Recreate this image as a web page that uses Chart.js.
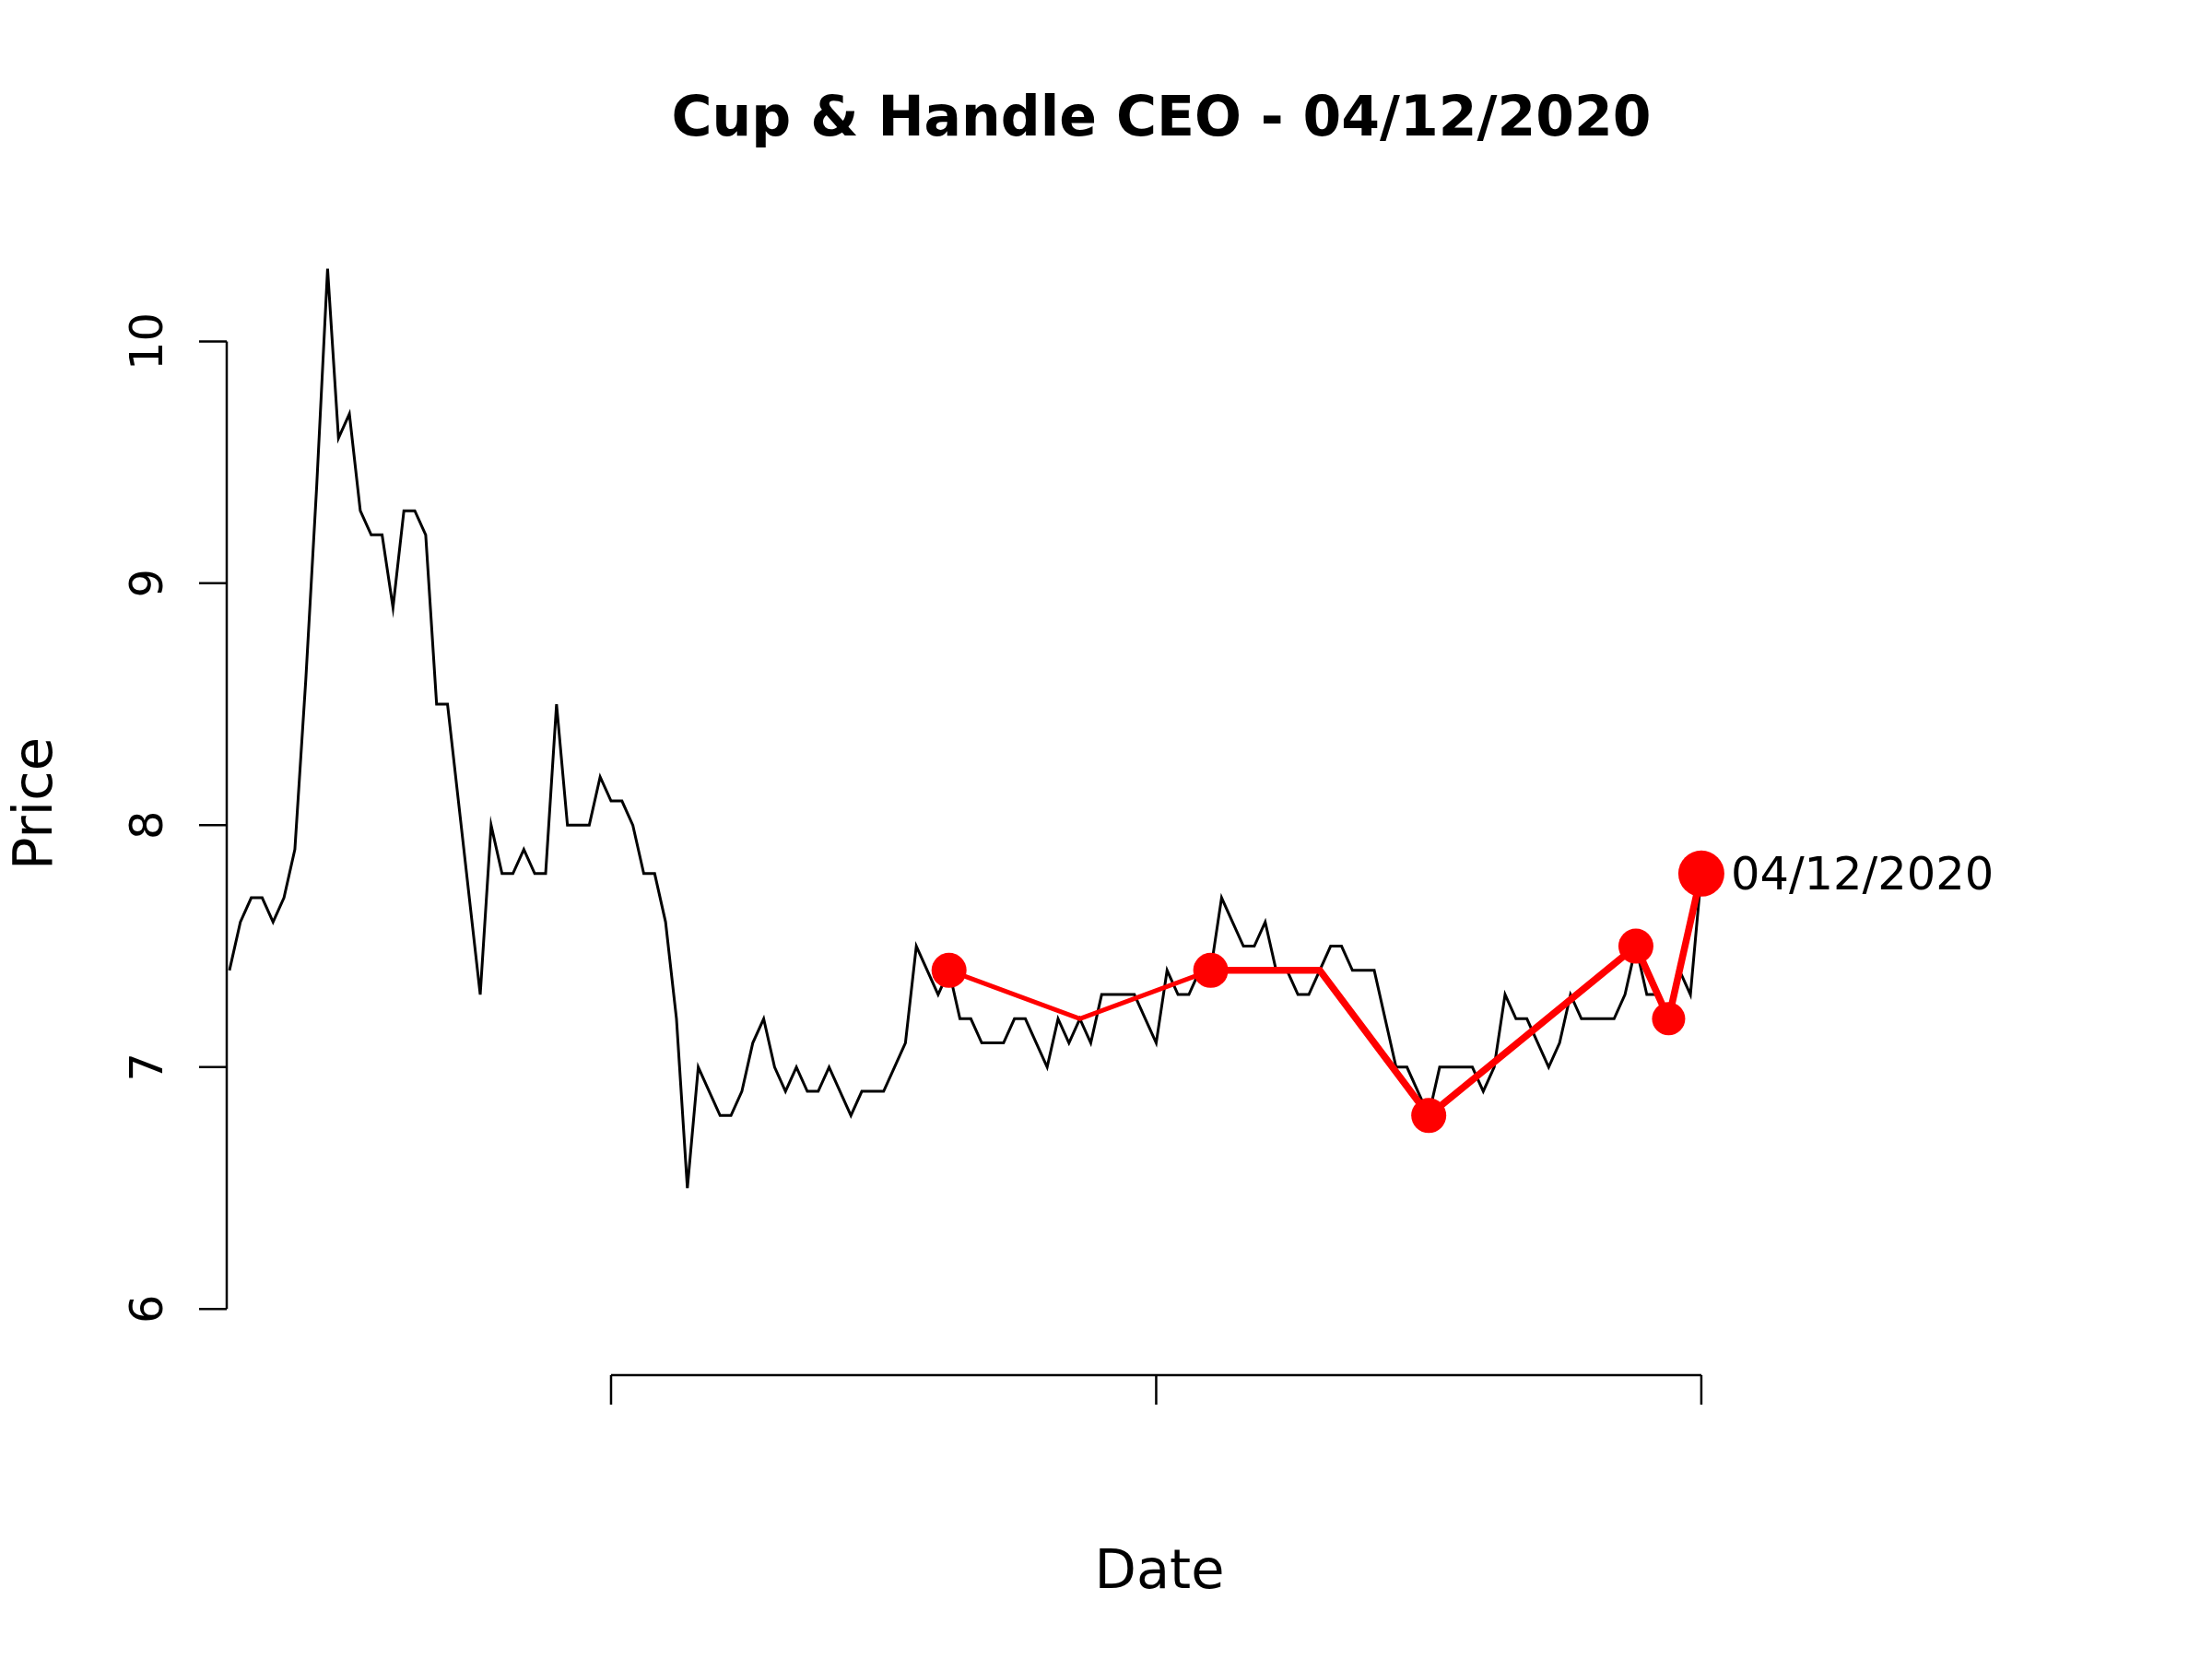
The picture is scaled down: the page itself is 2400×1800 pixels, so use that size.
<!DOCTYPE html>
<html>
<head>
  <meta charset="UTF-8">
  <title>Cup & Handle CEO - 04/12/2020</title>
  <script src="https://cdn.jsdelivr.net/npm/chart.js"></script>
  <style>
    html, body {
      margin: 0;
      padding: 0;
      background: #ffffff;
    }

    canvas {
      display: block;
    }
  </style>
</head>
<body>
  <canvas id="priceChart" width="2400" height="1800"></canvas>

  <script>
    // daily closing prices, one per trading day (index 0 = first day shown)
    const prices = [
      7.4, 7.6, 7.7, 7.7, 7.6, 7.7, 7.9, 8.6, 9.4, 10.3,
      9.6, 9.7, 9.3, 9.2, 9.2, 8.9, 9.3, 9.3, 9.2, 8.5,
      8.5, 8.1, 7.7, 7.3, 8.0, 7.8, 7.8, 7.9, 7.8, 7.8,
      8.5, 8.0, 8.0, 8.0, 8.2, 8.1, 8.1, 8.0, 7.8, 7.8,
      7.6, 7.2, 6.5, 7.0, 6.9, 6.8, 6.8, 6.9, 7.1, 7.2,
      7.0, 6.9, 7.0, 6.9, 6.9, 7.0, 6.9, 6.8, 6.9, 6.9,
      6.9, 7.0, 7.1, 7.5, 7.4, 7.3, 7.4, 7.2, 7.2, 7.1,
      7.1, 7.1, 7.2, 7.2, 7.1, 7.0, 7.2, 7.1, 7.2, 7.1,
      7.3, 7.3, 7.3, 7.3, 7.2, 7.1, 7.4, 7.3, 7.3, 7.4,
      7.4, 7.7, 7.6, 7.5, 7.5, 7.6, 7.4, 7.4, 7.3, 7.3,
      7.4, 7.5, 7.5, 7.4, 7.4, 7.4, 7.2, 7.0, 7.0, 6.9,
      6.8, 7.0, 7.0, 7.0, 7.0, 6.9, 7.0, 7.3, 7.2, 7.2,
      7.1, 7.0, 7.1, 7.3, 7.2, 7.2, 7.2, 7.2, 7.3, 7.5,
      7.3, 7.3, 7.2, 7.4, 7.3, 7.8
    ];

    // pattern pivots (day index and price)
    const patternDays = [66, 78, 90, 100, 110, 129, 132, 135];
    const patternPrices = [7.4, 7.2, 7.4, 7.4, 6.8, 7.5, 7.2, 7.8];
    const patternDots = [19, 0, 19, 0, 19, 19, 18, 25];

    const yTicks = [6, 7, 8, 9, 10];
    const xTicks = [35, 85, 135];   // date ticks, no labels shown

    const titleText = "Cup & Handle CEO - 04/12/2020";
    const xLabel = "Date";
    const yLabel = "Price";
    const pointLabel = "04/12/2020";

    const FONT = "'DejaVu Sans', sans-serif";

    const priceData = prices.map((p, i) => ({ x: i, y: p }));
    const patternData = patternDays.map((d, i) => ({ x: d, y: patternPrices[i] }));

    // R-style axes, titles and the point label
    const baseGraphics = {
      id: "baseGraphics",
      afterDraw(chart) {
        const c = chart.ctx;
        const area = chart.chartArea;
        const xs = chart.scales.x;
        const ys = chart.scales.y;
        const midX = (area.left + area.right) / 2;

        c.save();
        c.strokeStyle = "#000";
        c.fillStyle = "#000";
        c.lineWidth = 2.5;
        c.lineCap = "butt";

        // y axis
        const yTop = ys.getPixelForValue(yTicks[yTicks.length - 1]);
        const yBot = ys.getPixelForValue(yTicks[0]);
        c.beginPath();
        c.moveTo(area.left, yTop);
        c.lineTo(area.left, yBot);
        yTicks.forEach(t => {
          const py = ys.getPixelForValue(t);
          c.moveTo(area.left, py);
          c.lineTo(area.left - 30, py);
        });
        c.stroke();

        c.font = "49.5px " + FONT;
        c.textAlign = "center";
        c.textBaseline = "alphabetic";
        yTicks.forEach(t => {
          const py = ys.getPixelForValue(t);
          c.save();
          c.translate(area.left - 70, py);
          c.rotate(-Math.PI / 2);
          c.fillText(String(t), 0, 0);
          c.restore();
        });

        // x axis
        const xL = xs.getPixelForValue(xTicks[0]);
        const xR = xs.getPixelForValue(xTicks[xTicks.length - 1]);
        c.beginPath();
        c.moveTo(xL, area.bottom);
        c.lineTo(xR, area.bottom);
        xTicks.forEach(t => {
          const px = xs.getPixelForValue(t);
          c.moveTo(px, area.bottom);
          c.lineTo(px, area.bottom + 32);
        });
        c.stroke();

        // axis titles
        c.font = "59px " + FONT;
        c.fillText(xLabel, midX, 1723);
        c.save();
        c.translate(56, (area.top + area.bottom) / 2);
        c.rotate(-Math.PI / 2);
        c.fillText(yLabel, 0, 0);
        c.restore();

        // main title
        c.font = "bold 60px " + FONT;
        c.fillText(titleText, midX + 2, 147);

        // label next to the last pattern point
        const meta = chart.getDatasetMeta(1);
        const last = meta.data[meta.data.length - 1];
        c.font = "49.5px " + FONT;
        c.textAlign = "left";
        c.textBaseline = "middle";
        c.fillText(pointLabel, last.x + 32, last.y + 4);

        c.restore();
      }
    };

    const ctx = document.getElementById("priceChart").getContext("2d");
    new Chart(ctx, {
      type: "line",
      data: {
        datasets: [
          {
            label: "Price",
            data: priceData,
            borderColor: "#000000",
            borderWidth: 3,
            pointRadius: 0,
            tension: 0,
            fill: false,
            order: 2
          },
          {
            label: "Pattern",
            data: patternData,
            borderColor: "#ff0000",
            backgroundColor: "#ff0000",
            pointBackgroundColor: "#ff0000",
            pointBorderWidth: 0,
            pointRadius: patternDots,
            tension: 0,
            fill: false,
            segment: {
              borderWidth: s => (s.p0DataIndex < 2 ? 5 : 7.5)
            },
            order: 1
          }
        ]
      },
      options: {
        responsive: false,
        devicePixelRatio: 1,
        animation: false,
        clip: false,
        layout: {
          padding: { left: 246, right: 130, top: 252, bottom: 308 }
        },
        scales: {
          x: {
            type: "linear",
            display: false,
            min: -0.25,
            max: 170.85
          },
          y: {
            type: "linear",
            display: false,
            min: 5.727,
            max: 10.451
          }
        },
        plugins: {
          legend: { display: false },
          tooltip: { enabled: false },
          title: { display: false }
        }
      },
      plugins: [baseGraphics]
    });
  </script>
</body>
</html>
